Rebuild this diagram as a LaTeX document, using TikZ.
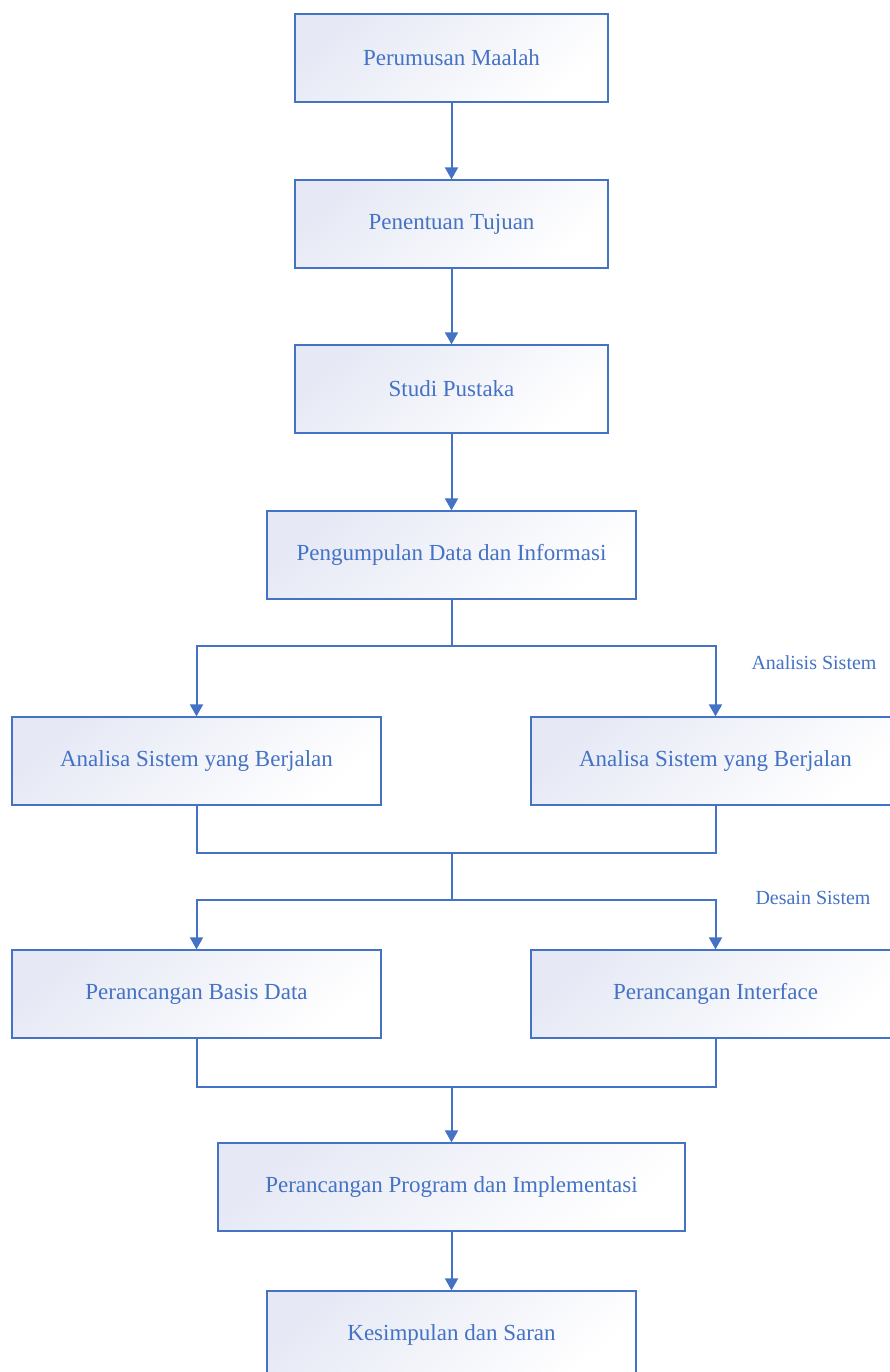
\documentclass[tikz,border=0pt]{standalone}
\usepackage{fontspec}
\setmainfont{Liberation Serif}
\usetikzlibrary{calc}
\usetikzlibrary{arrows.meta}
\definecolor{c1}{RGB}{68,114,196}
\definecolor{c2}{RGB}{230,233,245}

\tikzset{
  proc/.style={draw=c1,line width=1.3pt,minimum height=88pt,text=c1,
    font=\fontsize{23}{28}\selectfont,top color=c2,bottom color=white,shading angle=40},
  flow/.style={draw=c1,line width=2pt,-{Triangle[length=12pt,width=13pt]}},
  link/.style={draw=c1,line width=2pt},
  tag/.style={text=c1,font=\fontsize{20}{24}\selectfont}
}

\begin{document}
\begin{tikzpicture}[x=1pt,y=-1pt]
    \useasboundingbox (0,0) rectangle (890,1372);
    % main column
    \node[proc,minimum width=313pt] (rumus) at (451.5,58) {Perumusan Maalah};
    \node[proc,minimum width=313pt] (tujuan) at (451.5,224) {Penentuan Tujuan};
    \node[proc,minimum width=313pt] (pustaka) at (451.5,389) {Studi Pustaka};
    \node[proc,minimum width=369pt] (data) at (451.5,555) {Pengumpulan Data dan Informasi};
    % analisis sistem
    \node[proc,minimum width=369pt] (anaL) at (196.5,761) {Analisa Sistem yang Berjalan};
    \node[proc,minimum width=369pt] (anaR) at (715.5,761) {Analisa Sistem yang Berjalan};
    \node[tag] (lanalisis) at (814,663) {Analisis Sistem};
    % desain sistem
    \node[proc,minimum width=369pt] (basis) at (196.5,994) {Perancangan Basis Data};
    \node[proc,minimum width=369pt] (iface) at (715.5,994) {Perancangan Interface};
    \node[tag] (ldesain) at (813,898) {Desain Sistem};
    % bottom
    \node[proc,minimum width=467pt] (prog) at (451.5,1187) {Perancangan Program dan Implementasi};
    \node[proc,minimum width=369pt] (simpul) at (451.5,1335) {Kesimpulan dan Saran};

    \coordinate (s1) at (451.5,646);
    \coordinate (j2) at (451.5,853);
    \coordinate (s2) at (451.5,900);
    \coordinate (j3) at (451.5,1087);

    \draw[flow] (rumus) -- (tujuan);
    \draw[flow] (tujuan) -- (pustaka);
    \draw[flow] (pustaka) -- (data);
    \draw[link] (data) -- (s1);
    \draw[flow] (s1) -| (anaL);
    \draw[flow] (s1) -| (anaR);
    \draw[link] (anaL) |- (j2) -| (anaR);
    \draw[link] (j2) -- (s2);
    \draw[flow] (s2) -| (basis);
    \draw[flow] (s2) -| (iface);
    \draw[link] (basis) |- (j3) -| (iface);
    \draw[flow] (j3) -- (prog);
    \draw[flow] (prog) -- (simpul);
\end{tikzpicture}
\end{document}
